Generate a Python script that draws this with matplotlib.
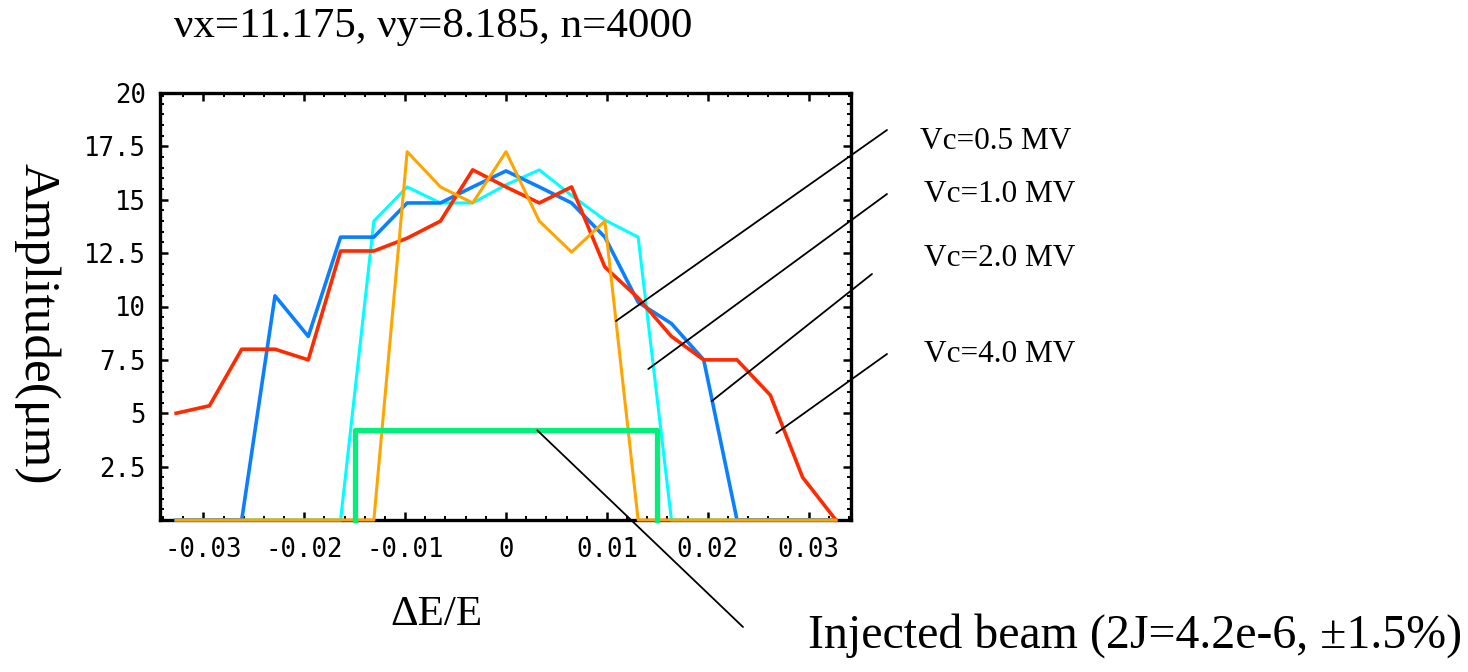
import numpy as np
import matplotlib
matplotlib.use("Agg")
import matplotlib.pyplot as plt
from matplotlib.ticker import MultipleLocator, FormatStrFormatter

# energy deviation grid
dE = [-0.0327, -0.0294, -0.0262, -0.0229, -0.0196, -0.0164, -0.0131, -0.0098, -0.0065, -0.0033, 0.0,
      0.0033, 0.0065, 0.0098, 0.0131, 0.0164, 0.0196, 0.0229, 0.0262, 0.0294, 0.0327]

amp_05 = [0, 0, 0, 0, 0, 0, 0, 17.25, 15.6, 14.85, 17.25, 14.0, 12.55, 14.0, 0, 0, 0, 0, 0, 0, 0]
amp_10 = [0, 0, 0, 0, 0, 0, 14.0, 15.6, 14.85, 14.85, 15.7, 16.4, 15.2, 14.05, 13.25, 0, 0, 0, 0, 0, 0]
amp_20 = [0, 0, 0, 10.5, 8.6, 13.25, 13.25, 14.85, 14.85, 15.6, 16.35, 15.6, 14.85, 13.25, 10.2, 9.2, 7.5, 0, 0, 0, 0]
amp_40 = [5.0, 5.35, 8.0, 8.0, 7.5, 12.6, 12.6, 13.2, 14.0, 16.4, 15.6, 14.85, 15.6, 11.85, 10.4, 8.6, 7.5, 7.5, 5.85, 2.0, 0]

# injected beam: +-1.5%, 2J = 4.2e-6
beam_x = [-0.015, -0.015, 0.015, 0.015]
beam_y = [0, 4.2, 4.2, 0]

labels = ["Vc=0.5 MV", "Vc=1.0 MV", "Vc=2.0 MV", "Vc=4.0 MV"]
# where each label line touches its curve (data coords)
label_pts = [(0.0109, 9.32), (0.0141, 7.07), (0.0204, 5.57), (0.0268, 4.07)]

W, H = 1468, 672
plt.rcParams['font.family'] = ['Liberation Serif', 'DejaVu Serif']
plt.rcParams['axes.unicode_minus'] = False

fig = plt.figure(figsize=(W / 100, H / 100), dpi=100)
ax = fig.add_axes([160 / W, 1 - 520 / H, (851 - 160) / W, (520 - 93) / H])

ax.plot(dE, amp_10, color="#00FFFF", lw=2.2, zorder=3, clip_on=False)
ax.plot(dE, amp_20, color="#0A80FF", lw=2.6, zorder=4, clip_on=False)
ax.plot(dE, amp_40, color="#FF2A00", lw=2.6, zorder=5, clip_on=False)
ax.plot(dE, amp_05, color="#FFA500", lw=2.2, zorder=6, clip_on=False)
ax.plot(beam_x, beam_y, color="#00F07A", lw=3.8, zorder=7, clip_on=False)

ax.set_xlim(-0.0343, 0.0342)
ax.set_ylim(0, 20)
ax.xaxis.set_minor_locator(MultipleLocator(0.002))
ax.yaxis.set_minor_locator(MultipleLocator(0.5))
ax.set_xticks([-0.03, -0.02, -0.01, 0, 0.01, 0.02, 0.03])
ax.set_xticklabels(["-0.03", "-0.02", "-0.01", "0", "0.01", "0.02", "0.03"])
ax.set_yticks([2.5, 5, 7.5, 10, 12.5, 15, 17.5, 20])
ax.yaxis.set_major_formatter(FormatStrFormatter('%g'))

ax.tick_params(which='both', direction='in', top=True, right=True, color='black')
ax.tick_params(which='major', length=6, width=1.8)
ax.tick_params(which='minor', length=3, width=1.4)
ax.tick_params(axis='x', which='major', pad=12)
ax.tick_params(axis='y', which='major', pad=10)
for lab in ax.get_xticklabels() + ax.get_yticklabels():
    lab.set_fontfamily('DejaVu Sans Mono')
    lab.set_fontsize(18.5)
for sp in ax.spines.values():
    sp.set_linewidth(2.4)
    sp.set_zorder(2)

# label lines
outer = [(887, 130), (887, 194), (872, 274), (887, 354)]
for (px, py), pt in zip(outer, label_pts):
    ax.annotate("", xy=pt, xycoords='data', xytext=(px / W, 1 - py / H), textcoords='figure fraction',
                arrowprops=dict(arrowstyle='-', lw=1.3, color='black', shrinkA=0, shrinkB=0),
                annotation_clip=False, zorder=10)
ax.annotate("", xy=(0.0031, 4.2), xycoords='data', xytext=(743 / W, 1 - 627 / H), textcoords='figure fraction',
            arrowprops=dict(arrowstyle='-', lw=1.3, color='black', shrinkA=0, shrinkB=0),
            annotation_clip=False, zorder=10)

label_pos = [(920, 149), (924, 202), (924, 266), (924, 362)]
for txt, (px, py) in zip(labels, label_pos):
    fig.text(px / W, 1 - py / H, txt, fontsize=22.5, va='baseline', ha='left')

fig.text(174 / W, 1 - 37 / H, "νx=11.175, νy=8.185, n=4000", fontsize=31, va='baseline', ha='left')
fig.text(390 / W, 1 - 625 / H, "ΔE/E", fontsize=31, va='baseline', ha='left')
fig.text(808 / W, 1 - 648 / H, "Injected beam (2J=4.2e-6, ±1.5%)", fontsize=34.5, va='baseline', ha='left')
fig.text(37 / W, 1 - 324 / H, "Amplitude(μm)", fontsize=37, rotation=270, ha='center', va='center')

fig.savefig("out.png", dpi=100)
